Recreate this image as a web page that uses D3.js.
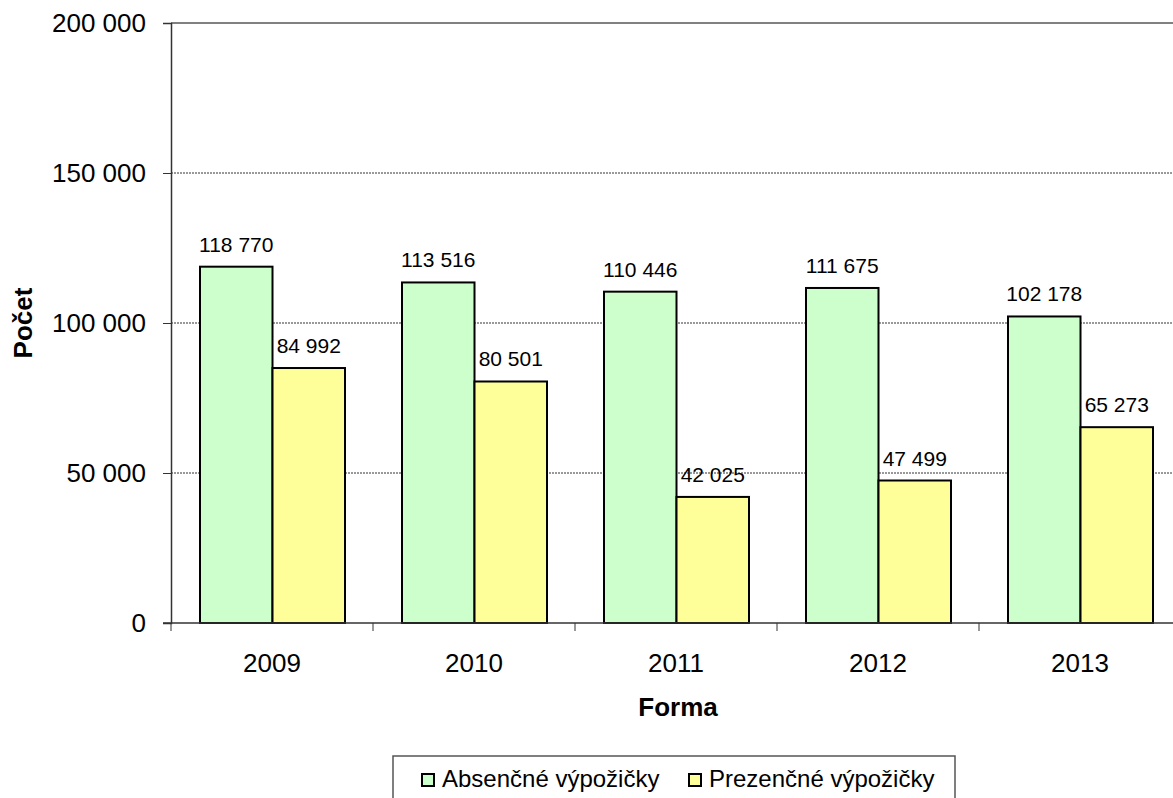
<!DOCTYPE html>
<html lang="sk">
<head>
<meta charset="UTF-8">
<title>Výpožičky</title>
<script src="https://cdn.jsdelivr.net/npm/d3@7"></script>
<style>
  body { margin: 0; background: #fff; }
  text { font-family: "Liberation Sans", Arial, sans-serif; fill: #000; }
</style>
</head>
<body>
<script>
const years = ['2009', '2010', '2011', '2012', '2013'];
const series = ['Absenčné výpožičky', 'Prezenčné výpožičky'];
const absencne = [118770, 113516, 110446, 111675, 102178];
const prezencne = [84992, 80501, 42025, 47499, 65273];
const colors = ['#ccffcc', '#ffff99'];
const yTicks = [0, 50000, 100000, 150000, 200000];

const W = 1173, H = 798;
const mLeft = 171, mRight = 1181, mTop = 23, mBottom = 623;
const fontFam = '"Liberation Sans", Arial, sans-serif';

const fmt = v => d3.format(',')(v).replace(/,/g, ' ');

const svg = d3.select('body').append('svg')
    .attr('width', W).attr('height', H);

const x0 = d3.scaleBand().domain(years).range([mLeft, mRight]);
const x1 = d3.scaleBand().domain(series).range([29, 174]);
const y = d3.scaleLinear().domain([0, 200000]).range([mBottom, mTop]);

// mriežka
svg.append('g')
    .selectAll('line')
    .data(yTicks.filter(t => t > 0 && t < 200000))
    .enter().append('line')
    .attr('x1', mLeft).attr('x2', mRight)
    .attr('y1', d => y(d)).attr('y2', d => y(d))
    .attr('stroke', '#333').attr('stroke-width', 1)
    .attr('stroke-dasharray', '2,1');

// horný okraj
svg.append('line')
    .attr('x1', mLeft).attr('x2', mRight)
    .attr('y1', y(200000)).attr('y2', y(200000))
    .attr('stroke', '#808080').attr('stroke-width', 2);

// os y
const yAxis = d3.axisLeft(y).tickValues(yTicks).tickSize(8).tickPadding(17).tickFormat(fmt);
const gy = svg.append('g').attr('transform', `translate(${mLeft},0)`).call(yAxis);
gy.select('.domain').attr('stroke', '#333').attr('stroke-width', 1.5);
gy.selectAll('.tick line').attr('stroke', '#333');
gy.selectAll('.tick text').attr('font-size', 26).attr('fill', '#000')
    .style('font-family', fontFam);

// stĺpce
const groups = svg.append('g')
    .selectAll('g')
    .data(years)
    .enter().append('g')
    .attr('transform', d => `translate(${x0(d)},0)`);

const rows = (d, i) => [
  {s: series[0], v: absencne[i], c: colors[0]},
  {s: series[1], v: prezencne[i], c: colors[1]}
];

groups.selectAll('rect')
    .data(rows)
    .enter().append('rect')
    .attr('x', d => x1(d.s))
    .attr('y', d => y(d.v))
    .attr('width', x1.bandwidth())
    .attr('height', d => y(0) - y(d.v))
    .attr('fill', d => d.c)
    .attr('stroke', '#000')
    .attr('stroke-width', 2);

groups.selectAll('text.val')
    .data(rows)
    .enter().append('text')
    .attr('class', 'val')
    .attr('x', d => x1(d.s) + x1.bandwidth() / 2)
    .attr('y', d => y(d.v) - 15)
    .attr('text-anchor', 'middle')
    .attr('font-size', 21)
    .text(d => fmt(d.v));

// os x
const xAxis = d3.axisBottom(x0).tickSize(0).tickPadding(31);
const gx = svg.append('g').attr('transform', `translate(0,${mBottom})`).call(xAxis);
gx.select('.domain').remove();
gx.selectAll('.tick text').attr('font-size', 26).attr('fill', '#000')
    .style('font-family', fontFam);
svg.append('line')
    .attr('x1', mLeft - 8).attr('x2', mRight)
    .attr('y1', mBottom).attr('y2', mBottom)
    .attr('stroke', '#333').attr('stroke-width', 1.5);
svg.append('g')
    .selectAll('line')
    .data(years.concat(['end']))
    .enter().append('line')
    .attr('x1', (d, i) => mLeft + i * x0.step())
    .attr('x2', (d, i) => mLeft + i * x0.step())
    .attr('y1', mBottom).attr('y2', mBottom + 8)
    .attr('stroke', '#333');

// názvy osí
svg.append('text')
    .attr('x', 678).attr('y', 716)
    .attr('text-anchor', 'middle')
    .attr('font-size', 26).attr('font-weight', 'bold')
    .text('Forma');

svg.append('text')
    .attr('transform', `translate(32,${(mTop + mBottom) / 2}) rotate(-90)`)
    .attr('text-anchor', 'middle')
    .attr('font-size', 26).attr('font-weight', 'bold')
    .text('Počet');

// legenda
const lg = svg.append('g');
lg.append('rect')
    .attr('x', 393).attr('y', 756).attr('width', 562).attr('height', 60)
    .attr('fill', '#fff').attr('stroke', '#555').attr('stroke-width', 1.5);

const legendX = [422, 689];
series.forEach((s, i) => {
  lg.append('rect')
    .attr('x', legendX[i]).attr('y', 774)
    .attr('width', 12).attr('height', 12)
    .attr('fill', colors[i]).attr('stroke', '#000').attr('stroke-width', 2);
  lg.append('text')
    .attr('x', legendX[i] + 20).attr('y', 787)
    .attr('font-size', 24)
    .text(s);
});
</script>
</body>
</html>
